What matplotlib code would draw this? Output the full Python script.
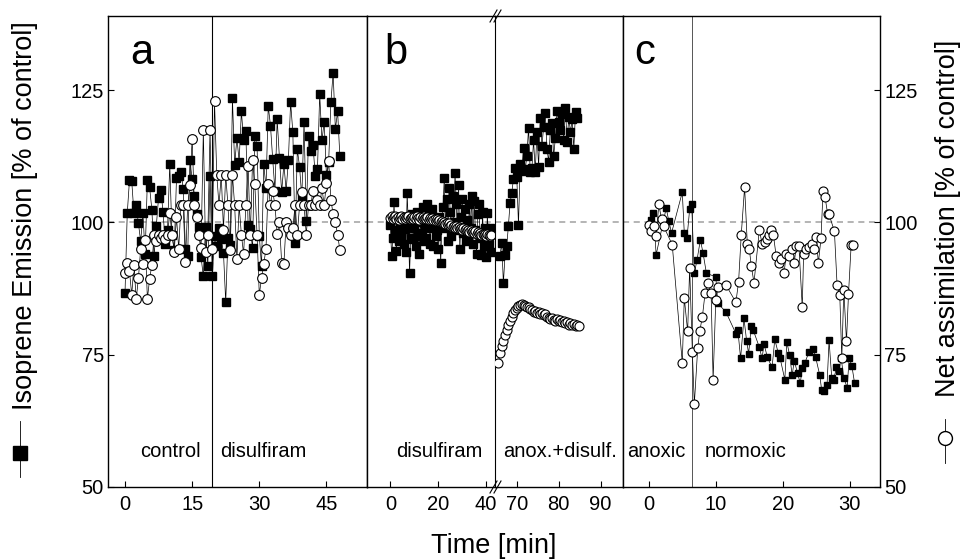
import numpy as np
import matplotlib
matplotlib.use('Agg')
import matplotlib.pyplot as plt
from matplotlib.lines import Line2D

plt.rcParams['font.family'] = ['Liberation Sans', 'DejaVu Sans']

# ---- panel a: control -> disulfiram (0.5 min steps, 0-48 min)
iso_a = [86.7, 101.7, 108.0, 107.8, 101.7, 103.2, 99.8, 96.4, 101.7, 94.0,
         108.0, 106.6, 102.4, 93.6, 99.4, 104.7, 106.2, 101.9, 96.0, 98.5,
         111.0, 97.7, 94.7, 108.3, 108.8, 109.6, 106.4, 95.0, 93.6, 111.7,
         108.2, 104.9, 101.6, 99.1, 93.4, 89.8, 99.2, 91.8, 108.7, 89.8,
         97.5, 95.5, 99.0, 96.8, 94.3, 84.9, 97.0, 95.8, 123.5, 110.8,
         116.0, 111.5, 121.0, 115.5, 117.2, 99.6, 98.7, 95.1, 116.4, 114.5,
         97.5, 91.7, 111.0, 106.5, 122.0, 118.3, 111.9, 106.0, 119.5, 112.2,
         105.8, 111.0, 106.0, 111.7, 122.7, 117.0, 96.2, 113.8, 110.5, 104.7,
         119.0, 100.3, 116.4, 113.5, 114.7, 108.8, 110.0, 124.2, 115.5, 119.0,
         109.0, 111.5, 122.7, 128.3, 117.6, 121.0, 112.5]
net_a = [90.5, 92.4, 90.8, 86.3, 92.0, 85.5, 89.5, 95.0, 92.2, 96.6,
         85.6, 89.3, 92.0, 97.7, 96.5, 97.7, 97.0, 97.7, 96.8, 97.7,
         101.7, 97.7, 94.5, 101.0, 95.0, 103.2, 103.2, 92.5, 103.2, 107.0,
         115.8, 103.2, 101.0, 97.7, 95.2, 117.5, 94.5, 97.7, 117.5, 95.0,
         122.9, 109.0, 103.2, 109.0, 98.6, 109.0, 103.2, 94.8, 109.0, 103.2,
         93.0, 103.2, 97.7, 94.0, 103.2, 110.7, 97.7, 111.7, 107.3, 97.7,
         86.3, 89.5, 92.2, 95.0, 107.3, 103.2, 106.0, 103.2, 97.8, 100.0,
         92.4, 92.2, 100.0, 99.0, 97.7, 99.0, 103.2, 97.7, 103.2, 105.8,
         103.2, 97.7, 103.2, 103.2, 106.0, 103.2, 104.3, 103.2, 106.5, 103.2,
         107.5, 111.6, 104.3, 101.5, 100.0, 97.7, 94.8]
time_a = np.linspace(0, 48, len(iso_a))

# ---- panel b, left part: disulfiram (0-42 min)
iso_b1 = [99.6, 93.6, 97.0, 103.8, 98.5, 94.6, 101.0, 96.5, 99.0, 97.2,
          100.5, 96.0, 98.8, 94.5, 105.6, 99.5, 90.4, 97.0, 101.5, 96.8,
          99.0, 95.5, 102.0, 97.5, 94.0, 100.0, 98.0, 103.0, 96.5, 99.5,
          97.0, 103.4, 101.5, 96.0, 99.0, 102.5, 95.5, 100.5, 97.5, 98.5,
          94.9, 101.0, 92.3, 99.5, 103.0, 108.4, 99.0, 104.5, 96.5, 106.5,
          102.0, 97.5, 105.0, 100.0, 109.4, 103.5, 98.5, 107.0, 94.9, 101.0,
          104.5, 98.0, 102.5, 96.5, 100.5, 97.0, 103.5, 99.0, 105.0, 96.0,
          104.0, 98.5, 94.0, 101.5, 103.5, 97.0, 93.8, 102.0, 95.5, 99.0,
          93.5, 101.7, 96.0, 99.0, 94.5]
net_b1 = [100.8, 101.2, 100.6, 101.0, 101.3, 100.7, 101.1, 100.5, 100.9, 101.2,
          100.7, 101.0, 100.6, 101.1, 100.8, 101.3, 100.7, 100.9, 101.1, 100.6,
          101.0, 100.7, 101.2, 100.8, 100.5, 101.0, 100.7, 101.1, 100.6, 100.9,
          100.6, 101.0, 100.5, 100.8, 100.4, 100.9, 100.5, 100.7, 100.3, 100.6,
          100.2, 100.5, 100.0, 100.3, 99.8, 100.1, 99.7, 99.9, 99.5, 99.8,
          99.4, 99.6, 99.2, 99.4, 99.0, 99.3, 98.9, 99.1, 98.7, 99.0,
          98.6, 98.9, 98.5, 98.7, 98.3, 98.6, 98.2, 98.5, 98.1, 98.4,
          98.0, 98.3, 97.9, 98.2, 97.8, 98.0, 97.7, 97.9, 97.6, 97.8,
          97.5, 97.8, 97.6, 97.4, 97.7]
time_b1 = np.linspace(0, 42, len(iso_b1))

# ---- panel b, right part: anoxia + disulfiram
iso_b2 = [93.7, 96.2, 88.5, 93.9, 95.5, 99.4, 103.7, 105.6, 108.2, 110.3,
          108.5, 99.5, 111.1, 109.7, 114.1, 110.0, 112.5, 117.9, 109.6, 110.2,
          115.5, 109.6, 117.0, 110.5, 119.8, 114.5, 118.0, 120.6, 113.9, 111.5,
          117.5, 118.8, 112.5, 116.0, 121.0, 119.0, 117.5, 120.5, 115.5, 121.7,
          115.1, 120.0, 117.0, 119.5, 113.9, 120.8, 119.8]
time_iso_b2 = np.linspace(66.0, 84.4, len(iso_b2))
net_b2 = [73.4, 75.3, 76.6, 77.6, 78.7, 79.7, 80.6, 81.3, 82.2, 82.9,
          83.4, 83.9, 84.2, 84.4, 84.5, 84.4, 84.2, 84.0, 84.1, 83.7,
          83.4, 83.1, 83.3, 82.9, 83.0, 82.6, 82.9, 82.5, 82.7, 82.2,
          82.0, 81.8, 81.9, 81.6, 81.4, 81.7, 81.3, 81.5, 81.1, 81.3,
          80.9, 81.1, 80.7, 80.9, 80.6, 80.8, 80.5, 80.6, 80.4]
time_net_b2 = np.linspace(65.6, 84.8, len(net_b2))

# ---- panel c: anoxic -> normoxic
time_iso_c = [0.3, 0.7, 1.1, 2.6, 3.0, 3.4, 5.0, 5.3, 5.7, 6.1, 6.4, 6.8, 7.2, 7.7,
              8.1, 8.6, 10.0, 10.3, 11.5, 13.0, 13.3, 13.7, 14.2, 14.6, 14.9, 15.3,
              15.6, 16.5, 16.9, 17.2, 17.7, 18.4, 18.8, 19.3, 19.6, 20.3, 20.6, 21.0,
              21.4, 21.7, 22.2, 22.6, 22.9, 23.3, 23.9, 24.5, 24.9, 25.5, 25.8, 26.2,
              26.6, 26.9, 27.3, 27.6, 28.0, 28.4, 28.7, 29.1, 29.6, 29.9, 30.3, 30.7]
iso_c = [100.5, 101.8, 93.9, 102.7, 100.2, 98.0, 105.7, 98.0, 97.0, 102.5, 103.4, 90.4, 92.9, 96.7,
         94.2, 90.4, 89.7, 84.7, 83.1, 79.0, 79.6, 74.3, 81.9, 77.6, 75.2, 80.5,
         79.6, 76.4, 74.3, 77.0, 74.5, 72.6, 77.9, 75.4, 74.3, 70.3, 77.4, 75.0,
         71.1, 73.9, 71.5, 69.6, 72.4, 73.5, 75.5, 76.0, 74.5, 71.2, 68.3, 68.2,
         69.3, 77.7, 70.6, 70.3, 72.6, 72.0, 74.4, 70.6, 68.8, 74.4, 72.9, 69.7]
time_net_c = [0.0, 0.4, 0.8, 1.1, 1.5, 1.9, 2.2, 3.5, 5.0, 5.3, 5.8, 6.1, 6.5, 6.8,
              7.3, 7.6, 8.0, 8.4, 8.8, 9.3, 9.6, 10.0, 10.3, 11.5, 13.0, 13.4, 13.8,
              14.3, 14.7, 15.0, 15.3, 15.7, 16.5, 16.9, 17.3, 17.6, 18.0, 18.3, 18.6,
              19.0, 19.4, 19.7, 20.2, 20.5, 20.9, 21.3, 21.7, 22.0, 22.4, 22.9, 23.1,
              23.5, 23.9, 24.3, 24.6, 25.0, 25.3, 25.7, 26.0, 26.3, 26.7, 26.9, 27.7,
              28.1, 28.5, 28.8, 29.1, 29.5, 29.8, 30.2, 30.5]
net_c = [99.6, 98.4, 99.3, 97.5, 103.4, 100.6, 99.3, 95.8, 73.5, 85.7, 79.4, 91.4, 75.6, 65.7,
         76.2, 79.4, 82.2, 86.6, 88.5, 86.6, 70.3, 85.4, 87.8, 88.2, 84.9, 88.8, 97.7,
         106.7, 96.0, 95.0, 91.7, 88.6, 98.6, 96.0, 96.3, 96.8, 97.6, 98.5, 97.6,
         93.7, 92.3, 93.0, 90.5, 94.0, 93.7, 95.0, 92.3, 95.5, 95.5, 84.0, 94.0,
         95.0, 95.3, 96.0, 95.0, 97.3, 92.3, 97.0, 105.9, 104.8, 101.5, 101.5, 98.3,
         88.1, 86.2, 74.3, 87.3, 77.5, 86.5, 95.8, 95.8]

W, H = 961, 559
top, bot = 16, 487


def box(x0, x1):
    return [x0 / W, 1 - bot / H, (x1 - x0) / W, (bot - top) / H]


fig = plt.figure(figsize=(W / 100, H / 100), dpi=100)
axa = fig.add_axes(box(108, 366.7))
axb1 = fig.add_axes(box(366.7, 495))
axb2 = fig.add_axes(box(495, 623.3))
axc = fig.add_axes(box(623.3, 880))

line_kw = dict(color='black', lw=0.5, zorder=2)
sq_kw = dict(marker='s', color='black', lw=0.5, mfc='black', mec='black', zorder=3)
ci_kw = dict(marker='o', color='black', lw=0.5, mfc='white', mec='black', mew=0.8, zorder=4)

axa.plot(time_a, iso_a, ms=6.3, **sq_kw)
axa.plot(time_a, net_a, ms=7.0, **ci_kw)
axb1.plot(time_b1, iso_b1, ms=6.0, **sq_kw)
axb1.plot(time_b1, net_b1, ms=6.5, **ci_kw)
axb2.plot(time_iso_b2, iso_b2, ms=6.0, **sq_kw)
axb2.plot(time_net_b2, net_b2, ms=6.5, **ci_kw)
axc.plot(time_iso_c, iso_c, ms=3.8, **sq_kw)
axc.plot(time_net_c, net_c, ms=6.5, **ci_kw)

axa.axvline(19.5, color='black', lw=0.8, zorder=1)
axc.axvline(6.4, color='#555555', lw=0.7, zorder=1)

limits = {axa: (-3.8, 54), axb1: (-9.9, 43.7), axb2: (64.8, 95.4), axc: (-3.8, 34.5)}
xticks = {axa: [0, 15, 30, 45], axb1: [0, 20, 40], axb2: [70, 80, 90], axc: [0, 10, 20, 30]}
for ax in [axa, axb1, axb2, axc]:
    ax.set_xlim(*limits[ax])
    ax.set_ylim(50, 139)
    ax.set_xticks(xticks[ax])
    ax.set_yticks([50, 75, 100, 125])
    ax.axhline(100, color='#a0a0a0', lw=1.1, ls=(0, (4, 3)), zorder=1)
    ax.tick_params(axis='x', direction='in', length=4, width=0.8, labelsize=14.5, pad=6)
    ax.tick_params(axis='y', direction='in', length=4, width=0.8, labelsize=14.5, pad=3,
                   left=False, right=False, labelleft=False, labelright=False)
    for s in ax.spines.values():
        s.set_linewidth(1.0)

axa.tick_params(axis='y', left=True, labelleft=True)
axc.tick_params(axis='y', right=True, labelright=True)
axb1.spines['right'].set_visible(False)
axb2.spines['left'].set_linewidth(0.8)

# panel letters and phase labels
txt = dict(fontsize=14.5, va='baseline', ha='left')
axa.text(1.1, 129.9, 'a', fontsize=30, va='baseline')
axb1.text(-2.6, 129.9, 'b', fontsize=30, va='baseline')
axc.text(-2.1, 129.9, 'c', fontsize=30, va='baseline')
axa.text(3.4, 55.6, 'control', **txt)
axa.text(21.3, 55.6, 'disulfiram', **txt)
axb1.text(2.4, 55.6, 'disulfiram', **txt)
axb2.text(66.7, 55.6, 'anox.+disulf.', **txt)
axc.text(-3.3, 55.6, 'anoxic', **txt)
axc.text(8.4, 55.6, 'normoxic', **txt)

# axis break marks
for yb in (top, bot):
    for dx in (0, 4):
        fig.add_artist(Line2D([(490 + dx) / W, (497 + dx) / W],
                              [1 - (yb + 6) / H, 1 - (yb - 6) / H],
                              color='black', lw=0.8, transform=fig.transFigure))

# axis labels with symbol keys
fig.text(494 / W, 1 - 553 / H, 'Time [min]', fontsize=19.5, ha='center', va='baseline')
fig.text(25 / W, 1 - 216 / H, 'Isoprene Emission [% of control]', fontsize=19.5,
         rotation=90, ha='center', va='center')
fig.text(948 / W, 1 - 218 / H, 'Net assimilation [% of control]', fontsize=19.5,
         rotation=90, ha='center', va='center')
fig.add_artist(Line2D([20 / W, 20 / W], [1 - 421 / H, 1 - 477 / H], color='black',
                      lw=0.6, transform=fig.transFigure))
fig.add_artist(Line2D([20 / W], [1 - 453 / H], marker='s', ms=10, color='black',
                      transform=fig.transFigure))
fig.add_artist(Line2D([945 / W, 945 / W], [1 - 419 / H, 1 - 463 / H], color='black',
                      lw=0.6, transform=fig.transFigure))
fig.add_artist(Line2D([945 / W], [1 - 438 / H], marker='o', ms=10, mfc='white',
                      mec='black', mew=1.0, transform=fig.transFigure))

fig.savefig('out.png', dpi=100)
